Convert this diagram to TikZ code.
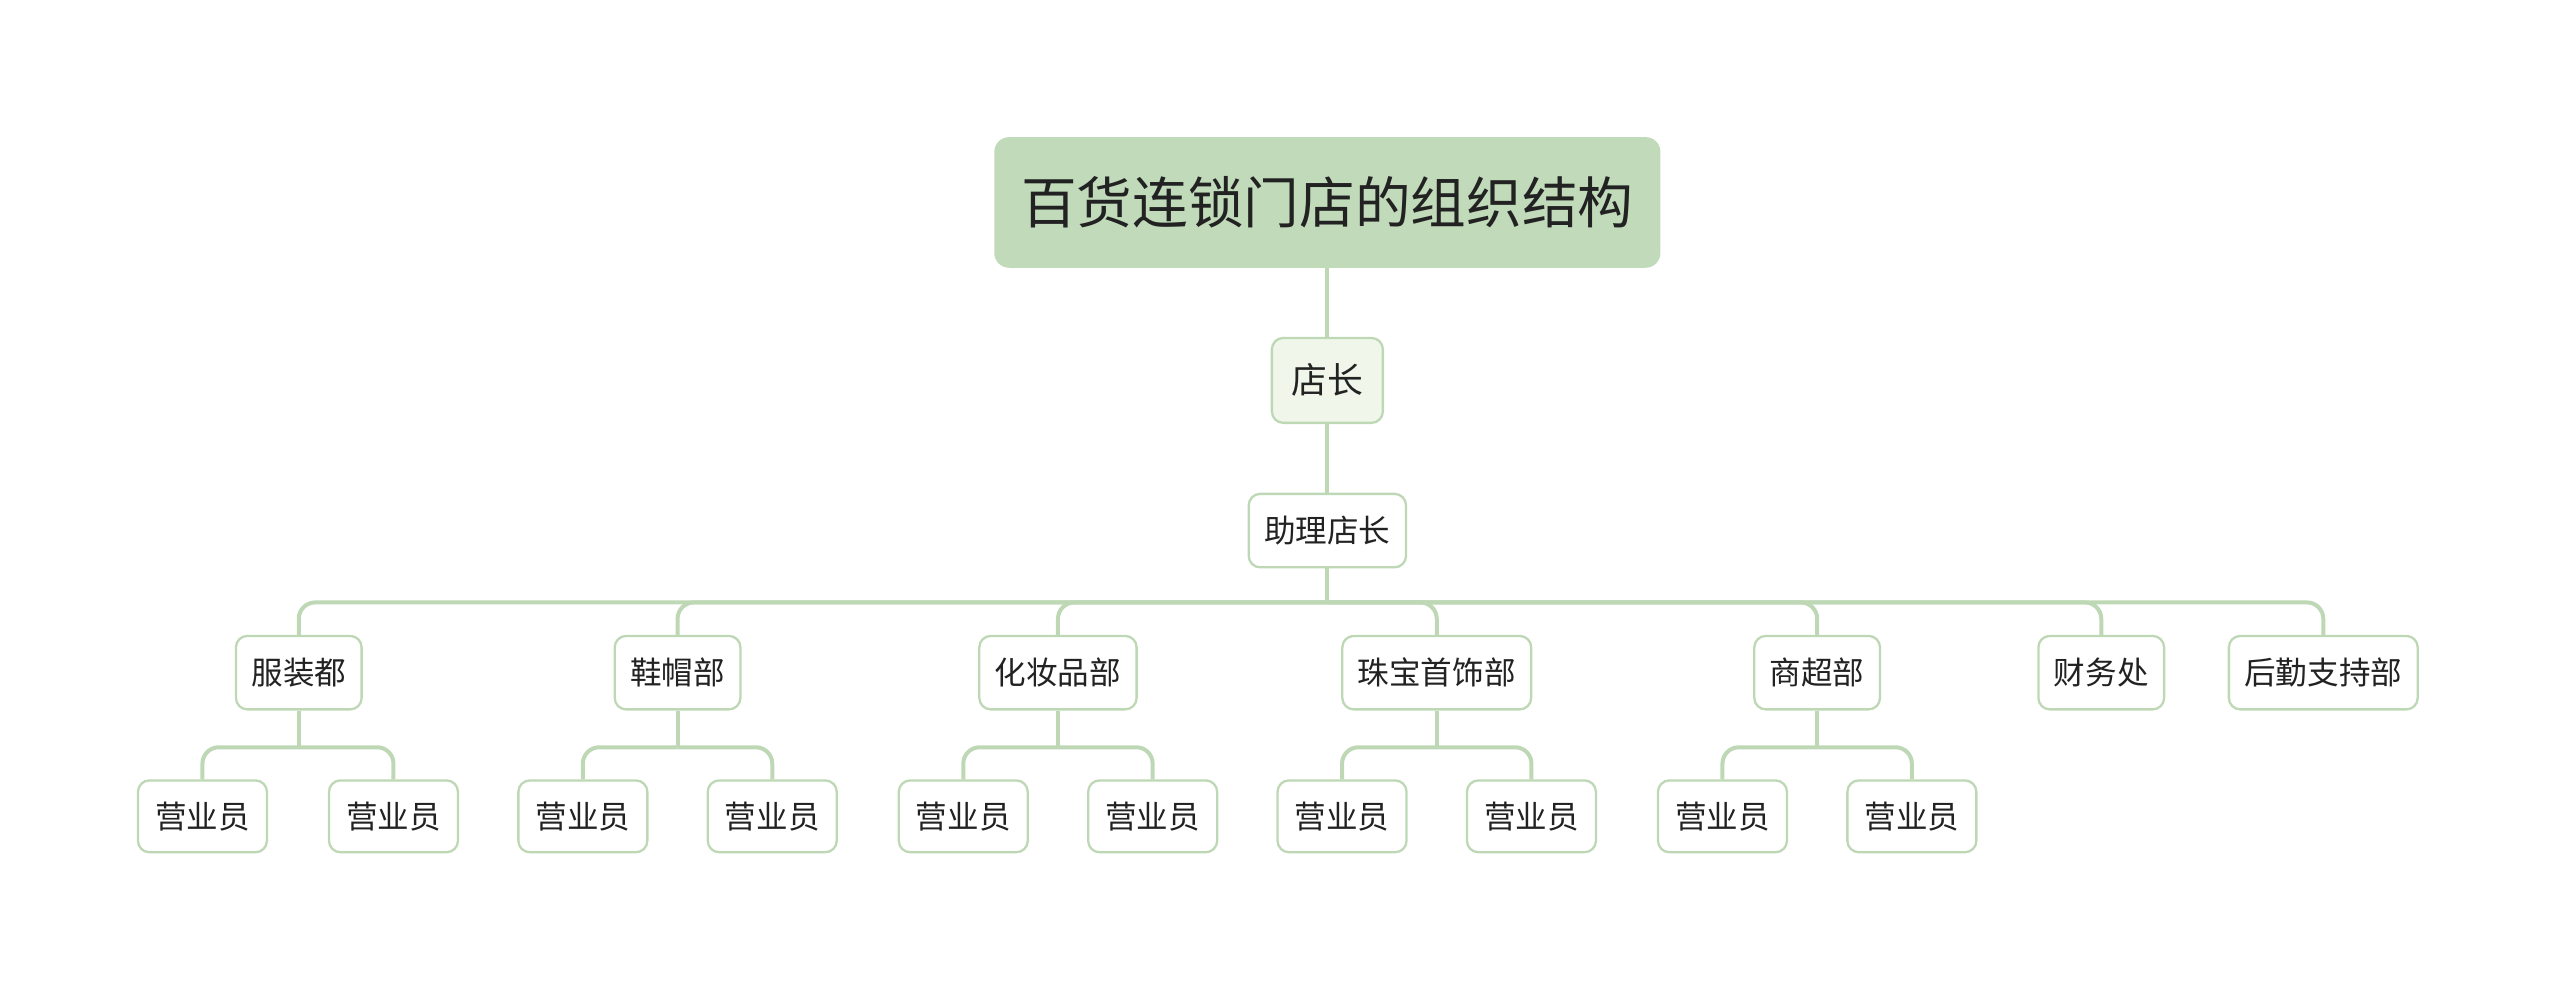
\documentclass[tikz,border=0pt]{standalone}
\usepackage{fontspec}
\setmainfont{Noto Sans CJK SC}
\usepackage{tikz}
\usetikzlibrary{positioning}
\definecolor{lnk}{HTML}{BED8B6}
\definecolor{topfill}{HTML}{C1DABA}
\definecolor{mgrfill}{HTML}{F0F7EA}
\definecolor{txt}{HTML}{222222}

\begin{document}
\begin{tikzpicture}[
    box/.style={draw=lnk, line width=0.8pt, rounded corners=0.14cm, fill=white, text=txt, font=\fontsize{11}{13}\selectfont, minimum height=0.9cm, inner xsep=0.19cm, align=center},
    root/.style={fill=topfill, rounded corners=0.18cm, minimum width=8.16cm, minimum height=1.6cm, font=\fontsize{19.4}{23}\selectfont, text=txt},
    dept/.style={box, minimum height=0.9cm},
    staff/.style={box, minimum width=1.58cm, minimum height=0.88cm},
    link/.style={draw=lnk, line width=1.4pt, rounded corners=0.2cm}
]
\useasboundingbox (0,0) rectangle (31.36,-12.16);
\node[root] (top) at (16.26,-2.48) {百货连锁门店的组织结构};
\node[box, fill=mgrfill, font=\fontsize{12.5}{15}\selectfont, minimum width=1.36cm, minimum height=1.04cm] (boss) at (16.26,-4.66) {店长};
\node[box] (aide) at (16.26,-6.5) {助理店长};
\draw[link] (top) -- (boss);
\draw[link] (boss) -- (aide);
\coordinate (bus) at (16.26,-7.38);
\draw[link] (aide) -- (bus);
% departments
\foreach \n/\x/\t in {d1/3.66/服装都, d2/8.30/鞋帽部, d3/12.96/化妆品部, d4/17.60/珠宝首饰部, d5/22.26/商超部, d6/25.74/财务处, d7/28.46/后勤支持部}{
    \node[dept] (\n) at (\x,-8.24) {\t};
    \draw[link] (bus) -| (\n);
}
% staff
\foreach \p/\a/\b in {d1/2.48/4.82, d2/7.14/9.46, d3/11.80/14.12, d4/16.44/18.76, d5/21.10/23.42}{
    \coordinate (\p-j) at ([yshift=-0.45cm]\p.south);
    \draw[link] (\p) -- (\p-j);
    \node[staff] (\p-l) at (\a,-10) {营业员};
    \node[staff] (\p-r) at (\b,-10) {营业员};
    \draw[link] (\p-j) -| (\p-l);
    \draw[link] (\p-j) -| (\p-r);
}
\end{tikzpicture}
\end{document}
